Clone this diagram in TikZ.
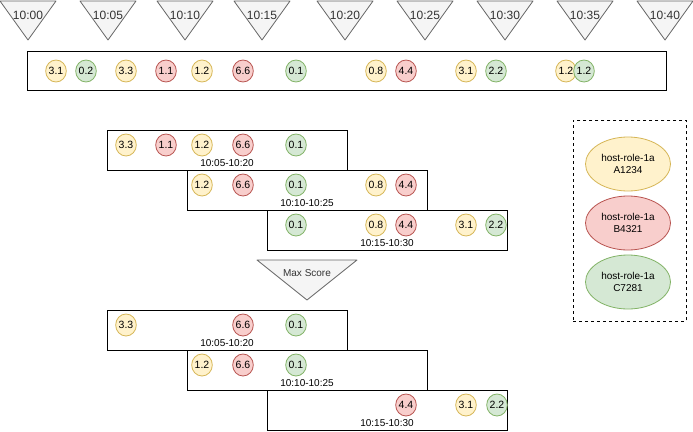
\documentclass[tikz,border=0pt]{standalone}
\usepackage{fontspec}
\setmainfont{Liberation Sans}
\usetikzlibrary{shapes.geometric}
\definecolor{yfill}{HTML}{FFF2CC}\definecolor{ydraw}{HTML}{D6B656}
\definecolor{rfill}{HTML}{F8CECC}\definecolor{rdraw}{HTML}{B85450}
\definecolor{gfill}{HTML}{D5E8D4}\definecolor{gdraw}{HTML}{82B366}
\definecolor{trifill}{HTML}{F5F5F5}\definecolor{tridraw}{HTML}{666666}\definecolor{tritext}{HTML}{333333}
\begin{document}
\begin{tikzpicture}[x=1pt,y=-1pt,
  val/.style={ellipse, minimum width=20pt, minimum height=22pt, inner sep=0pt, line width=0.8pt, font=\fontsize{10.5}{12}\selectfont},
  yv/.style={val, draw=ydraw, fill=yfill},
  rv/.style={val, draw=rdraw, fill=rfill},
  gv/.style={val, draw=gdraw, fill=gfill},
  tri/.style={draw=tridraw, fill=trifill, line width=0.8pt, line join=round},
  tritxt/.style={text=tritext, font=\fontsize{12}{14}\selectfont, inner sep=0pt},
  win/.style={draw, fill=white, line width=1pt, rectangle, inner sep=0pt, anchor=north west},
  lbl/.style={font=\fontsize{10}{12}\selectfont, inner sep=0pt},
  leg/.style={ellipse, minimum width=85pt, minimum height=54pt, inner sep=0pt, line width=0.8pt, align=center, font=\fontsize{10}{12}\selectfont},
]
\useasboundingbox (0,0) rectangle (693,431);

% time triangles
\foreach \x/\t [count=\i] in {28/10:00,108/10:05,185/10:10,262/10:15,345/10:20,425/10:25,505/10:30,585/10:35,665/10:40}{
  \draw[tri] (\x-28,1) -- (\x+28,1) -- (\x,40) -- cycle;
  \node[tritxt] (t\i) at (\x,15) {\t};
}

% top timeline box
\node[win, minimum width=639pt, minimum height=39pt] (tl) at (27,51) {};
\foreach \s/\x/\v [count=\i] in {yv/56/3.1,gv/86/0.2,yv/126/3.3,rv/166/1.1,yv/202/1.2,rv/243/6.6,gv/296/0.1,yv/376/0.8,rv/406/4.4,yv/466/3.1,gv/496/2.2,yv/566/1.2,gv/584/1.2}{
  \node[\s] (a\i) at (\x,71) {\v};
}

% windows (all values)
\node[win, minimum width=240pt, minimum height=40pt] (w1) at (107,130) {};
\node[win, minimum width=240pt, minimum height=40pt] (w2) at (187,170) {};
\node[win, minimum width=240pt, minimum height=40pt] (w3) at (267,210) {};
\node[lbl] (l1) at (227,163) {10:05-10:20};
\node[lbl] (l2) at (307,203) {10:10-10:25};
\node[lbl] (l3) at (387,243) {10:15-10:30};
\foreach \s/\x/\v [count=\i] in {yv/126/3.3,rv/166/1.1,yv/202/1.2,rv/243/6.6,gv/296/0.1}{
  \node[\s] (b1\i) at (\x,145) {\v};
}
\foreach \s/\x/\v [count=\i] in {yv/202/1.2,rv/243/6.6,gv/296/0.1,yv/376/0.8,rv/406/4.4}{
  \node[\s] (b2\i) at (\x,185) {\v};
}
\foreach \s/\x/\v [count=\i] in {gv/296/0.1,yv/376/0.8,rv/406/4.4,yv/466/3.1,gv/496/2.2}{
  \node[\s] (b3\i) at (\x,225) {\v};
}

% max score triangle
\draw[tri] (257,260) -- (357,260) -- (307,300) -- cycle;
\node[text=tritext, font=\fontsize{10}{12}\selectfont, inner sep=0pt] (ms) at (307,273) {Max Score};

% windows (max scores)
\node[win, minimum width=240pt, minimum height=40pt] (m1) at (107,310) {};
\node[win, minimum width=240pt, minimum height=40pt] (m2) at (187,350) {};
\node[win, minimum width=240pt, minimum height=40pt] (m3) at (267,390) {};
\node[lbl] (ml1) at (227,343) {10:05-10:20};
\node[lbl] (ml2) at (307,383) {10:10-10:25};
\node[lbl] (ml3) at (387,423) {10:15-10:30};
\foreach \s/\x/\v [count=\i] in {yv/126/3.3,rv/243/6.6,gv/296/0.1}{
  \node[\s] (c1\i) at (\x,325) {\v};
}
\foreach \s/\x/\v [count=\i] in {yv/202/1.2,rv/243/6.6,gv/296/0.1}{
  \node[\s] (c2\i) at (\x,365) {\v};
}
\foreach \s/\x/\v [count=\i] in {rv/406/4.4,yv/466/3.1,gv/497/2.2}{
  \node[\s] (c3\i) at (\x,405) {\v};
}

% legend
\node[win, dashed, line width=0.8pt, minimum width=113pt, minimum height=201pt] (lg) at (573,120) {};
\node[leg, draw=ydraw, fill=yfill] (ya) at (628,164) {host-role-1a\\A1234};
\node[leg, draw=rdraw, fill=rfill] (rb) at (628,223) {host-role-1a\\B4321};
\node[leg, draw=gdraw, fill=gfill] (gc) at (628,282) {host-role-1a\\C7281};
\end{tikzpicture}
\end{document}
